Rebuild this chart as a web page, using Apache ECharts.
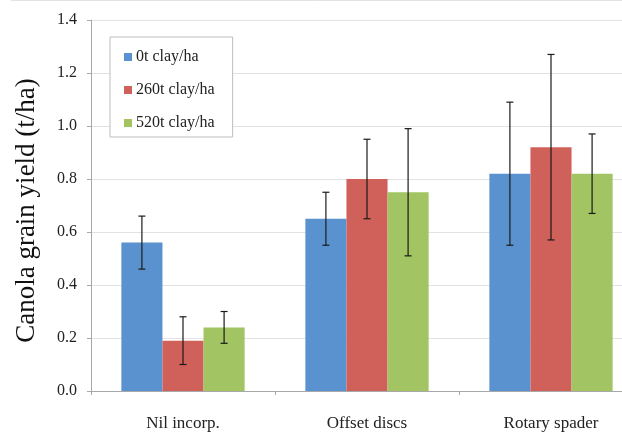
<!DOCTYPE html>
<html><head><meta charset="utf-8">
<script src="https://cdn.jsdelivr.net/npm/echarts@6/dist/echarts.min.js"></script>
<style>html,body{margin:0;padding:0;background:#fff}#c{width:622px;height:432px}</style>
</head><body><div id="c"></div>
<script>
const categories = ['Nil incorp.', 'Offset discs', 'Rotary spader'];
const seriesNames = ['0t clay/ha', '260t clay/ha', '520t clay/ha'];
const yield0 = [0.56, 0.65, 0.82];
const yield260 = [0.19, 0.80, 0.92];
const yield520 = [0.24, 0.75, 0.82];
const err0 = [[0.46, 0.66], [0.55, 0.75], [0.55, 1.09]];
const err260 = [[0.10, 0.28], [0.65, 0.95], [0.57, 1.27]];
const err520 = [[0.18, 0.30], [0.51, 0.99], [0.67, 0.97]];
const colors = ['#5a92cf', '#d0605a', '#a2c462'];

const values = [yield0, yield260, yield520];
const errs = [err0, err260, err520];
const gapFrac = 0.33;
const font = '"Liberation Serif", "Times New Roman", serif';

const series = [];
values.forEach((v, i) => {
  series.push({
    name: seriesNames[i], type: 'bar', data: v,
    barCategoryGap: '33%', barGap: '0%',
    itemStyle: { color: colors[i] }
  });
});
errs.forEach((e, i) => {
  series.push({
    type: 'custom', silent: true, z: 10,
    data: e.map((d, k) => [k, d[0], d[1]]),
    renderItem: function (params, api) {
      const k = api.value(0);
      const lo = api.coord([k, api.value(1)]);
      const hi = api.coord([k, api.value(2)]);
      const cw = api.size([1, 0])[0];
      const bw = cw * (1 - gapFrac) / 3;
      const x = lo[0] + (i - 1) * bw;
      const cap = 3.5;
      const st = { stroke: '#1a1a1a', lineWidth: 1.2 };
      return { type: 'group', children: [
        { type: 'line', shape: { x1: x, y1: lo[1], x2: x, y2: hi[1] }, style: st },
        { type: 'line', shape: { x1: x - cap, y1: lo[1], x2: x + cap, y2: lo[1] }, style: st },
        { type: 'line', shape: { x1: x - cap, y1: hi[1], x2: x + cap, y2: hi[1] }, style: st }
      ]};
    }
  });
});

const chart = echarts.init(document.getElementById('c'));
chart.setOption({
  animation: false,
  backgroundColor: '#fff',
  graphic: [{
    type: 'line', shape: { x1: 11, y1: 0.5, x2: 622, y2: 0.5 },
    style: { stroke: '#e2e2e2', lineWidth: 1 }, silent: true
  }],
  grid: { left: 91, width: 552, top: 20, height: 371, outerBoundsMode: 'none', containLabel: false },
  legend: {
    orient: 'vertical', left: 110, top: 37,
    data: seriesNames, icon: 'rect', itemWidth: 8, itemHeight: 8, itemGap: 17,
    padding: [12, 18, 6, 14],
    borderColor: '#bdbdbd', borderWidth: 1, backgroundColor: '#fff',
    textStyle: { fontFamily: font, fontSize: 16, color: '#222', padding: [0, 0, 0, -1] }
  },
  xAxis: {
    type: 'category', data: categories,
    axisLine: { lineStyle: { color: '#a8a8a8' } },
    axisTick: { show: true, length: 4, lineStyle: { color: '#a8a8a8' } },
    axisLabel: { fontFamily: font, fontSize: 17, color: '#222', margin: 24 }
  },
  yAxis: {
    type: 'value', min: 0, max: 1.4, interval: 0.2,
    name: 'Canola grain yield (t/ha)', nameLocation: 'middle', nameGap: 51,
    nameTextStyle: { fontFamily: font, fontSize: 27, color: '#111', padding: [0, 10, 0, 0] },
    axisLine: { show: true, lineStyle: { color: '#a8a8a8' } },
    axisTick: { show: true, length: 4, lineStyle: { color: '#a8a8a8' } },
    axisLabel: { fontFamily: font, fontSize: 16, color: '#222', margin: 14,
      formatter: v => v.toFixed(1) },
    splitLine: { lineStyle: { color: '#e2e2e2' } }
  },
  series: series
});
</script></body></html>
